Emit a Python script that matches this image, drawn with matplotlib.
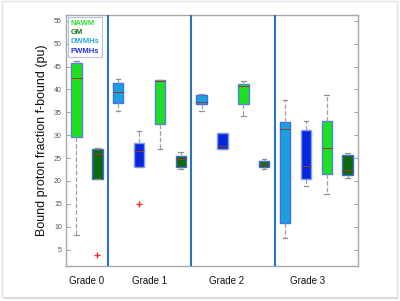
import matplotlib.pyplot as plt
from matplotlib.patches import Rectangle

# Box statistics (pu)
groups = ["Grade 0", "Grade 1", "Grade 2", "Grade 3"]
tissues = ["NAWM", "GM",
           "DWMHs", "PWMHs", "NAWM", "GM",
           "DWMHs", "PWMHs", "NAWM", "GM",
           "DWMHs", "PWMHs", "NAWM", "GM"]
whisker_low = [8.2, 20.4, 35.4, 23.0, 26.9, 22.6, 35.3, 26.9, 34.1, 22.7, 7.6, 19.0, 17.1, 20.6]
q1 = [29.7, 20.4, 37.1, 23.0, 32.5, 23.1, 36.8, 26.9, 36.8, 23.0, 10.7, 20.5, 21.5, 21.2]
median = [42.5, 25.8, 39.4, 26.6, 41.9, 24.7, 37.2, 27.6, 40.7, 23.8, 31.3, 23.2, 27.1, 22.3]
q3 = [45.7, 26.9, 41.4, 28.4, 42.1, 25.5, 38.8, 30.5, 41.2, 24.4, 32.9, 31.1, 33.1, 25.7]
whisker_high = [46.3, 27.1, 42.2, 31.0, 42.1, 26.4, 39.0, 30.5, 41.8, 24.7, 37.6, 33.2, 38.7, 26.1]
outliers = [[], [3.9], [], [15.0], [], [], [], [], [], [], [], [], [], []]

fill = {"NAWM": "#1ee01e", "GM": "#0b6b0b", "DWMHs": "#1ba0dc", "PWMHs": "#0626dc"}
edge = {"NAWM": "#5a7ee8", "GM": "#4466dd", "DWMHs": "#3f6df5", "PWMHs": "#7f9cff"}
legend_col = {"NAWM": "#2fe02f", "GM": "#17701a", "DWMHs": "#2aa8e0", "PWMHs": "#2233dd"}

stats = []
for i in range(len(tissues)):
    stats.append({"whislo": whisker_low[i], "q1": q1[i], "med": median[i],
                  "q3": q3[i], "whishi": whisker_high[i], "fliers": outliers[i]})

fig = plt.figure(figsize=(4.0, 3.01), dpi=100)
plt.rcParams["font.family"] = ["Liberation Sans", "DejaVu Sans"]

# panel frame with a soft shadow
fig.patches.append(Rectangle((0.006, 0.013), 0.986, 0.985, transform=fig.transFigure,
                             facecolor="white", edgecolor="#e4e4e4", lw=1.0, zorder=-2))
fig.patches.append(Rectangle((0.009, 0.008), 0.986, 0.985, transform=fig.transFigure,
                             facecolor="#cfcfcf", edgecolor="none", zorder=-3))

ax = fig.add_axes([0.165, 0.1163, 0.73, 0.834])
positions = list(range(1, len(tissues) + 1))
bp = ax.bxp(stats, positions=positions, widths=0.5, patch_artist=True,
            capwidths=0.22,
            whiskerprops=dict(color="#a0a0a0", linestyle="--", lw=0.9),
            capprops=dict(color="#909090", lw=0.9),
            medianprops=dict(color="#8f3b2e", lw=0.7),
            flierprops=dict(marker="+", markeredgecolor="#ff2a2a", markersize=4.5, lw=0.8))
for patch, t in zip(bp["boxes"], tissues):
    patch.set_facecolor(fill[t])
    patch.set_edgecolor(edge[t])
    patch.set_linewidth(1.0)

# group separators
for xs in [2.5, 6.5, 10.5]:
    ax.axvline(xs, color="#2b72c4", lw=1.5, zorder=5)

ax.set_xlim(0.5, 14.5)
ax.set_ylim(1.4, 56.3)
ax.set_xticks([1.5, 4.5, 8.2, 12.1])
ax.set_xticklabels(groups, fontsize=7, color="#111111")
ax.tick_params(axis="x", length=0, pad=7)
ax.set_yticks([5, 10, 15, 20, 25, 30, 35, 40, 45, 50, 55])
ax.tick_params(axis="y", direction="in", length=3, width=0.6, color="#909090",
               labelsize=5, labelcolor="#555555", right=True, pad=3)
for s in ax.spines.values():
    s.set_color("#a8a8a8")
    s.set_linewidth(1.0)
ax.set_ylabel("Bound proton fraction f-bound (pu)", fontsize=9, color="#111111", labelpad=4)

# legend: coloured labels, no handles
handles = [plt.Line2D([], [], linestyle="none") for _ in legend_col]
leg = ax.legend(handles, list(legend_col.keys()), loc="upper left", handlelength=0,
                handletextpad=0, frameon=True, fancybox=False,
                borderpad=0.35, labelspacing=0.25, borderaxespad=0.25,
                prop={"weight": "bold", "size": 5.5})
leg.get_frame().set_edgecolor("#9fb4d6")
leg.get_frame().set_linewidth(0.8)
for txt, col in zip(leg.get_texts(), legend_col.values()):
    txt.set_color(col)

fig.savefig("out.png", dpi=100)
